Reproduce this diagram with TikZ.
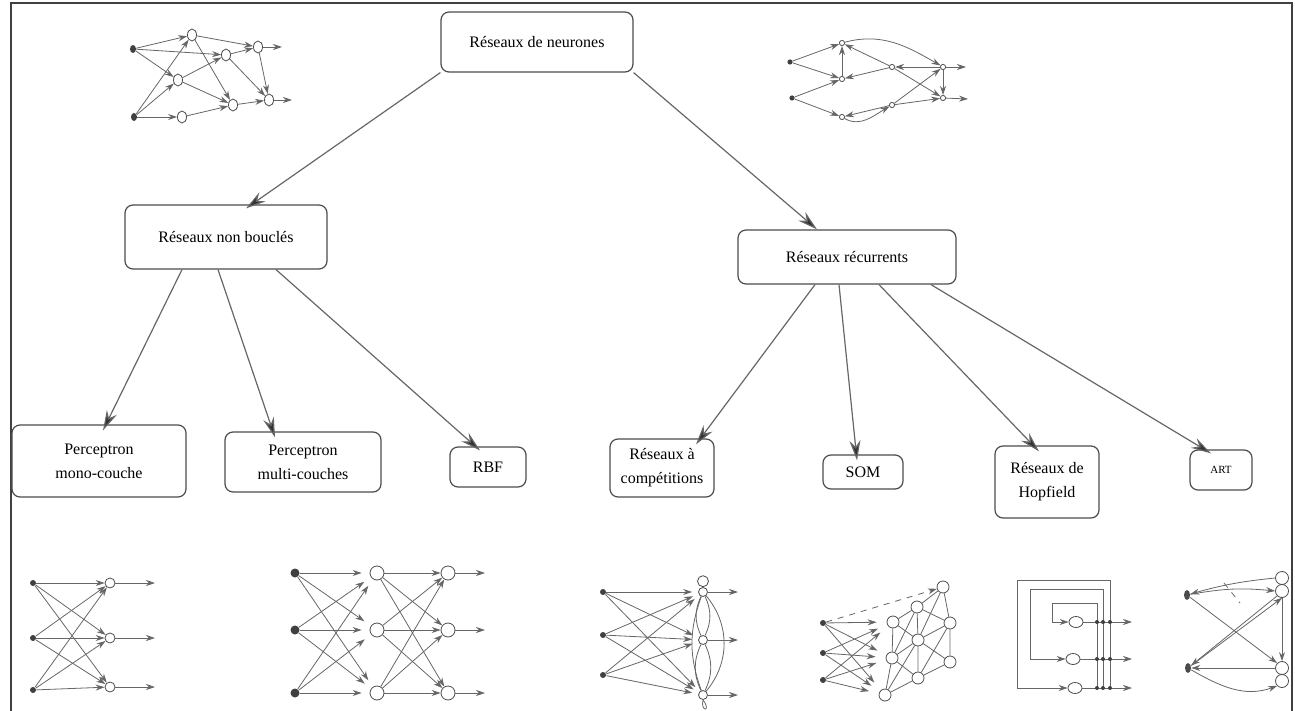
\documentclass[tikz,border=0pt]{standalone}
\usepackage{fontspec}
\setmainfont{Liberation Serif}
\usetikzlibrary{arrows.meta,shapes.geometric}
\begin{document}
\begin{tikzpicture}[x=0.5pt,y=-0.5pt,
  box/.style={draw=black!70, rounded corners=4pt, line width=0.6pt, align=center,
    font=\fontsize{8}{12}\selectfont, inner sep=0pt},
  main/.style={draw=black!60, line width=0.6pt, -{Stealth[length=10pt,width=5.5pt,fill=black!80]}},
  inp/.style={circle, fill=black!75, inner sep=0pt, minimum size=3pt},
  neu/.style={ellipse, draw=black!70, line width=0.4pt, inner sep=0pt, minimum width=4.5pt, minimum height=6pt},
  big/.style={circle, draw=black!70, line width=0.4pt, inner sep=0pt, minimum size=7pt},
  sm/.style={circle, draw=black!70, line width=0.4pt, inner sep=0pt, minimum size=2.6pt},
  lk/.style={draw=black!60, line width=0.4pt, -{Stealth[length=4.5pt,width=3pt]}},
  ln/.style={draw=black!60, line width=0.4pt}]
\useasboundingbox (0,0) rectangle (1295,711);
% frame
\coordinate (f1) at (11,711);
\coordinate (f2) at (11,3);
\coordinate (f3) at (1292,3);
\coordinate (f4) at (1292,711);
\draw[black!75, line width=1.2pt] (f1) -- (f2) -- (f3) -- (f4);

% boxes
\node[box, minimum width=96pt, minimum height=30pt] (root) at (537,42) {Réseaux de neurones};
\node[box, minimum width=101pt, minimum height=32pt] (nb) at (226,237) {Réseaux non bouclés};
\node[box, minimum width=109pt, minimum height=27pt] (rec) at (847,257) {Réseaux récurrents};
\node[box, minimum width=87pt, minimum height=36pt] (mono) at (99,461) {Perceptron\\mono-couche};
\node[box, minimum width=78pt, minimum height=30pt] (multi) at (303,462) {Perceptron\\multi-couches};
\node[box, minimum width=38pt, minimum height=20pt] (rbf) at (488,467) {RBF};
\node[box, minimum width=52pt, minimum height=29pt] (comp) at (662,468) {Réseaux à\\compétitions};
\node[box, minimum width=40pt, minimum height=17pt] (som) at (863,472) {SOM};
\node[box, minimum width=52pt, minimum height=36pt] (hop) at (1047,482) {Réseaux de\\Hopfield};
\node[box, minimum width=31pt, minimum height=20pt, font=\fontsize{5.5}{7}\selectfont] (art) at (1221,470) {ART};

% main arrows
\draw[main] (root.south west) -- ([xshift=10pt,yshift=-2pt]nb.north);
\draw[main] (root.south east) -- ([xshift=-15pt]rec.north);
\draw[main] ([xshift=-22pt]nb.south) -- ([xshift=2pt,yshift=-3pt]mono.north);
\draw[main] ([xshift=-4pt]nb.south) -- ([xshift=-14pt,yshift=-3pt]multi.north);
\draw[main] ([xshift=25pt]nb.south) -- ([xshift=-4pt,yshift=-2pt]rbf.north);
\draw[main] ([xshift=-16pt]rec.south) -- ([xshift=17pt,yshift=-3pt]comp.north);
\draw[main] ([xshift=-4pt]rec.south) -- ([xshift=-3pt,yshift=-3pt]som.north);
\draw[main] ([xshift=16pt]rec.south) -- ([xshift=-4pt,yshift=-3pt]hop.north);
\draw[main] ([xshift=42pt]rec.south) -- ([xshift=-5pt,yshift=-2pt]art.north);

% ---- top-left network
\node[inp, ellipse, minimum width=3pt, minimum height=4pt] (a1) at (133,49) {};
\node[inp, ellipse, minimum width=3pt, minimum height=4pt] (a2) at (134,117) {};
\node[neu] (ha) at (192,35) {};
\node[neu] (hb) at (226,55) {};
\node[neu] (hc) at (178,80) {};
\node[neu] (hd) at (182,117) {};
\node[neu] (oe) at (258,47) {};
\node[neu] (of) at (233,105) {};
\node[neu] (og) at (269,100) {};
\coordinate (oeo) at (282,47);
\coordinate (ogo) at (292,100);
\draw[lk] (a1) -- (ha);
\draw[lk] (a1) -- (hb);
\draw[lk] (a1) -- (hc);
\draw[lk] (a2) -- (ha);
\draw[lk] (a2) -- (hc);
\draw[lk] (a2) -- (hd);
\draw[lk] (ha) -- (oe);
\draw[lk] (ha) -- (of);
\draw[lk] (hc) -- (hb);
\draw[lk] (hc) -- (of);
\draw[lk] (hb) -- (oe);
\draw[lk] (hb) -- (og);
\draw[lk] (hd) -- (of);
\draw[lk] (oe) -- (og);
\draw[lk] (of) -- (og);
\draw[lk] (oe) -- (oeo);
\draw[lk] (og) -- (ogo);

% ---- top-right network
\node[inp, minimum size=2.6pt] (b1) at (790,62) {};
\node[inp, minimum size=2.6pt] (b2) at (792,98) {};
\node[sm] (n1) at (842,43) {};
\node[sm] (n2) at (842,79) {};
\node[sm] (n3) at (842,117) {};
\node[sm] (m1) at (892,67) {};
\node[sm] (m2) at (892,105) {};
\node[sm] (r1) at (943,67) {};
\node[sm] (r2) at (943,98) {};
\coordinate (r1o) at (966,67);
\coordinate (r2o) at (968,99);
\draw[lk] (b1) -- (n1);
\draw[lk] (b1) -- (n2);
\draw[lk] (b2) -- (n2);
\draw[lk] (b2) -- (n3);
\draw[lk] (n2) -- (n1);
\draw[lk] (m1) -- (n1);
\draw[lk] (m1) -- (n2);
\draw[lk] (n1) to[out=15, in=150] (r1);
\draw[lk] (r1) -- (m1);
\draw[lk] (r1) -- (r1o);
\draw[lk] (r1) -- (r2);
\draw[lk] (m1) -- (r2);
\draw[lk] (m2) -- (r1);
\draw[lk] (m2) -- (r2);
\draw[lk] (r2) -- (r2o);
\draw[lk] (m2) -- (n3);
\draw[lk] (n3) to[out=-30, in=-150] (m2);

% ---- perceptron mono-couche
\foreach \i/\y/\z in {1/583/583, 2/638/638, 3/690/687}{
  \node[inp] (p\i) at (33,\y) {};
  \node[neu, minimum width=5pt, minimum height=5pt] (q\i) at (110,\z) {};
  \coordinate (qo\i) at (155,\z);
}
\foreach \i in {1,2,3}{
  \foreach \j in {1,2,3}{ \draw[lk] (p\i) -- (q\j); }
  \draw[lk] (q\i) -- (qo\i);
}

% ---- perceptron multi-couches
\foreach \i/\y in {1/573, 2/630, 3/693}{
  \node[inp, minimum size=4.5pt] (u\i) at (295,\y) {};
  \node[big] (v\i) at (377,\y) {};
  \node[big] (w\i) at (448,\y) {};
  \coordinate (wo\i) at (485,\y);
}
\foreach \i in {1,2,3}{
  \foreach \j in {1,2,3}{
    \draw[lk, shorten >=4pt] (u\i) -- (v\j);
    \draw[lk] (v\i) -- (w\j);
  }
  \draw[lk] (w\i) -- (wo\i);
}

% ---- reseaux a competitions
\foreach \i/\y/\z in {1/592/592, 2/635/640, 3/675/695}{
  \node[inp] (c\i) at (603,\y) {};
  \node[sm, minimum size=4.5pt] (d\i) at (703,\z) {};
  \coordinate (do\i) at (738,\z);
}
\foreach \i in {1,2,3}{
  \foreach \j in {1,2,3}{ \draw[lk, shorten >=3pt] (c\i) -- (d\j); }
  \draw[lk] (d\i) -- (do\i);
}
\node[circle, draw=black!70, line width=0.4pt, inner sep=0pt, minimum size=5.5pt, anchor=south] (dl1) at (d1.north) {};
\draw[ln] (d3.south) .. controls (700,712) and (712,712) .. (d3.south);
\draw[ln] (d1) to[bend right=25] (d2);
\draw[ln] (d2) to[bend right=25] (d3);
\draw[ln] (d1) to[bend right=20] (d3);
\draw[ln] (d1) to[bend left=25] (d2);
\draw[ln] (d2) to[bend left=25] (d3);
\draw[ln] (d1) to[bend left=40] (d3);

% ---- SOM
\node[inp] (s1) at (823,623) {};
\node[inp] (s2) at (823,653) {};
\node[inp] (s3) at (823,680) {};
\node[big, minimum size=6pt] (g11) at (893,622) {};
\node[big, minimum size=6pt] (g12) at (892,658) {};
\node[big, minimum size=6pt] (g13) at (885,695) {};
\node[big, minimum size=6pt] (g21) at (917,607) {};
\node[big, minimum size=6pt] (g22) at (918,640) {};
\node[big, minimum size=6pt] (g23) at (918,678) {};
\node[big, minimum size=6pt] (g31) at (943,587) {};
\node[big, minimum size=6pt] (g32) at (950,623) {};
\node[big, minimum size=6pt] (g33) at (950,662) {};
\draw[lk, dashed] (s1) -- (g31);
\foreach \i in {1,2,3}{
  \foreach \j in {1,2,3}{ \draw[lk, shorten >=5pt] (s\i) -- (g1\j); }
}
\draw[ln] (g11) -- (g12) -- (g13);
\draw[ln] (g21) -- (g22) -- (g23);
\draw[ln] (g31) -- (g32) -- (g33);
\draw[ln] (g11) -- (g21);
\draw[ln] (g12) -- (g22);
\draw[ln] (g13) -- (g23);
\draw[ln] (g21) -- (g31);
\draw[ln] (g22) -- (g32);
\draw[ln] (g23) -- (g33);
\draw[ln] (g12) -- (g21);
\draw[ln] (g11) -- (g22);
\draw[ln] (g13) -- (g22);
\draw[ln] (g12) -- (g23);
\draw[ln] (g22) -- (g31);
\draw[ln] (g21) -- (g32);
\draw[ln] (g23) -- (g32);
\draw[ln] (g22) -- (g33);

% ---- Hopfield
\node[neu, minimum width=7pt, minimum height=5.5pt] (h1) at (1076,622) {};
\node[neu, minimum width=7pt, minimum height=5.5pt] (h2) at (1073,659) {};
\node[neu, minimum width=7pt, minimum height=5.5pt] (h3) at (1075,688) {};
\coordinate (ho1) at (1132,622);
\coordinate (ho2) at (1132,659);
\coordinate (ho3) at (1132,688);
\draw[lk] (h1) -- (ho1);
\draw[lk] (h2) -- (ho2);
\draw[lk] (h3) -- (ho3);
\coordinate (ib) at (1097,688);
\coordinate (mb) at (1103,688);
\coordinate (ob) at (1110,688);
\draw[lk] (ib) |- (1052,603) |- (h1);
\draw[lk] (mb) |- (1030,589) |- (h2);
\draw[lk] (ob) |- (1017,580) |- (h3);
\foreach \xx in {1097,1103,1110}{
  \foreach \yy in {622,659,688}{
    \fill[black!75] (\xx,\yy) circle (1pt);
  }
}

% ---- ART
\node[ellipse, fill=black!70, inner sep=0pt, minimum width=3pt, minimum height=5pt] (t1) at (1187,595) {};
\node[ellipse, fill=black!70, inner sep=0pt, minimum width=3pt, minimum height=5pt] (t2) at (1188,668) {};
\node[circle, draw=black!70, line width=0.4pt, inner sep=0pt, minimum size=6.5pt] (e1a) at (1282,578) {};
\node[circle, draw=black!70, line width=0.4pt, inner sep=0pt, minimum size=6.5pt] (e1) at (1282,591) {};
\node[circle, draw=black!70, line width=0.4pt, inner sep=0pt, minimum size=6.5pt] (e2) at (1282,668) {};
\node[circle, draw=black!70, line width=0.4pt, inner sep=0pt, minimum size=6.5pt] (e2b) at (1282,681) {};
\draw[lk] (e1a.west) to[bend right=5] (t1);
\draw[lk] (t1) to[bend left=8] (e1.west);
\draw[lk] (e1.south west) -- (t2);
\draw[lk] (t2) -- (e1.south);
\draw[lk] (t1) -- (e2.north west);
\draw[lk] (e1.south) -- (e2.north);
\draw[lk] (e2.west) -- (t2);
\draw[lk] (t2) to[out=-30, in=-160] (e2b.south west);
\draw[ln, dashed] (1224,583) -- (1240,603);
\end{tikzpicture}
\end{document}
